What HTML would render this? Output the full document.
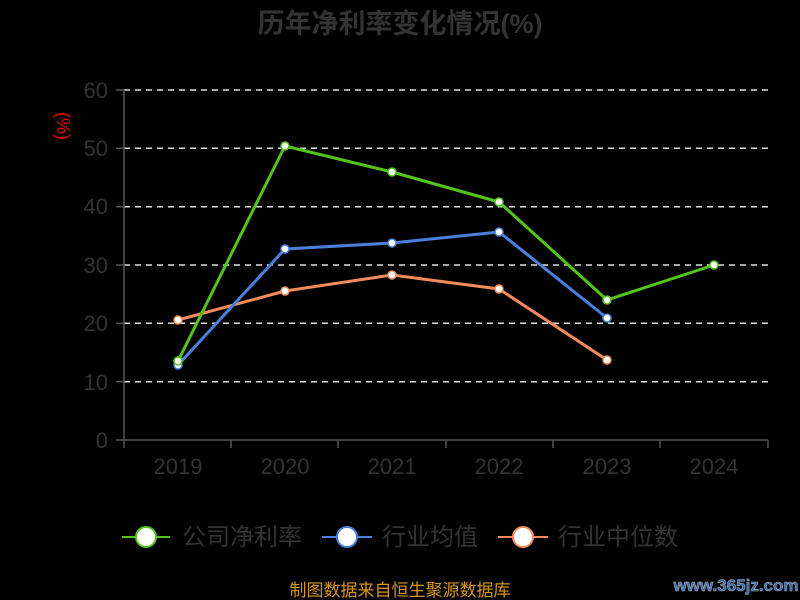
<!DOCTYPE html>
<html><head><meta charset="utf-8"><style>body{margin:0;background:#000;}svg{display:block}</style></head><body>
<svg width="800" height="600" xmlns="http://www.w3.org/2000/svg" font-family="Liberation Sans, Noto Sans CJK SC, sans-serif">
<rect width="800" height="600" fill="#000"/>
<text x="400" y="33" text-anchor="middle" font-size="27" font-weight="bold" fill="#333">历年净利率变化情况(%)</text>
<text transform="translate(57,126) rotate(90)" text-anchor="middle" font-size="18" fill="#e00">(%)</text>
<g stroke="#ddd" stroke-width="1.5" stroke-dasharray="6,5">
<line x1="124" y1="90" x2="768" y2="90"/><line x1="124" y1="148.3" x2="768" y2="148.3"/><line x1="124" y1="206.7" x2="768" y2="206.7"/><line x1="124" y1="265" x2="768" y2="265"/><line x1="124" y1="323.3" x2="768" y2="323.3"/><line x1="124" y1="381.7" x2="768" y2="381.7"/>
</g>
<g stroke="#555" stroke-width="1.5">
<line x1="124" y1="90" x2="124" y2="440"/><line x1="124" y1="440" x2="768" y2="440"/>
<line x1="116" y1="90" x2="124" y2="90"/><line x1="116" y1="148.3" x2="124" y2="148.3"/><line x1="116" y1="206.7" x2="124" y2="206.7"/><line x1="116" y1="265" x2="124" y2="265"/><line x1="116" y1="323.3" x2="124" y2="323.3"/><line x1="116" y1="381.7" x2="124" y2="381.7"/><line x1="116" y1="440" x2="124" y2="440"/>
<line x1="124" y1="440" x2="124" y2="448"/><line x1="231" y1="440" x2="231" y2="448"/><line x1="338" y1="440" x2="338" y2="448"/><line x1="446" y1="440" x2="446" y2="448"/><line x1="553" y1="440" x2="553" y2="448"/><line x1="660" y1="440" x2="660" y2="448"/><line x1="768" y1="440" x2="768" y2="448"/>
</g>
<g font-size="22" fill="#333" text-anchor="end">
<text x="108" y="98">60</text><text x="108" y="156">50</text><text x="108" y="214">40</text><text x="108" y="273">30</text><text x="108" y="331">20</text><text x="108" y="390">10</text><text x="108" y="448">0</text>
</g>
<g font-size="22" fill="#333" text-anchor="middle">
<text x="178" y="474">2019</text><text x="285" y="474">2020</text><text x="392" y="474">2021</text><text x="499" y="474">2022</text><text x="607" y="474">2023</text><text x="714" y="474">2024</text>
</g>
<g fill="none" stroke-width="3" stroke-linejoin="round">
<polyline stroke="#f58a5a" points="178,320 285,291 392,275 499,289 607,360"/>
<polyline stroke="#4a7fdc" points="178,365 285,249 392,243 499,232 607,318"/>
<polyline stroke="#52c41a" points="178,361 285,146 392,172 499,202 607,300 714,265"/>
</g>
<g fill="#fff" stroke-width="1.5">
<g stroke="#f58a5a"><circle cx="178" cy="320" r="4"/><circle cx="285" cy="291" r="4"/><circle cx="392" cy="275" r="4"/><circle cx="499" cy="289" r="4"/><circle cx="607" cy="360" r="4"/></g>
<g stroke="#4a7fdc"><circle cx="178" cy="365" r="4"/><circle cx="285" cy="249" r="4"/><circle cx="392" cy="243" r="4"/><circle cx="499" cy="232" r="4"/><circle cx="607" cy="318" r="4"/></g>
<g stroke="#52c41a"><circle cx="178" cy="361" r="4"/><circle cx="285" cy="146" r="4"/><circle cx="392" cy="172" r="4"/><circle cx="499" cy="202" r="4"/><circle cx="607" cy="300" r="4"/><circle cx="714" cy="265" r="4"/></g>
</g>
<g stroke-width="2">
<line x1="122" y1="537" x2="170" y2="537" stroke="#52c41a"/><circle cx="146" cy="537" r="10" fill="#fff" stroke="#52c41a"/>
<line x1="322" y1="537" x2="372" y2="537" stroke="#4a7fdc"/><circle cx="347" cy="537" r="10" fill="#fff" stroke="#4a7fdc"/>
<line x1="498" y1="537" x2="548" y2="537" stroke="#f58a5a"/><circle cx="523" cy="537" r="10" fill="#fff" stroke="#f58a5a"/>
</g>
<g font-size="24" fill="#333">
<text x="182" y="545">公司净利率</text><text x="382" y="545">行业均值</text><text x="558" y="545">行业中位数</text>
</g>
<text x="400" y="596" text-anchor="middle" font-size="17" fill="#d4961a">制图数据来自恒生聚源数据库</text>
<text x="736" y="591" text-anchor="middle" font-size="17" font-weight="bold" fill="#3a6aa8" stroke="#9ab" stroke-width="0.6">www.365jz.com</text>
</svg>
</body></html>
